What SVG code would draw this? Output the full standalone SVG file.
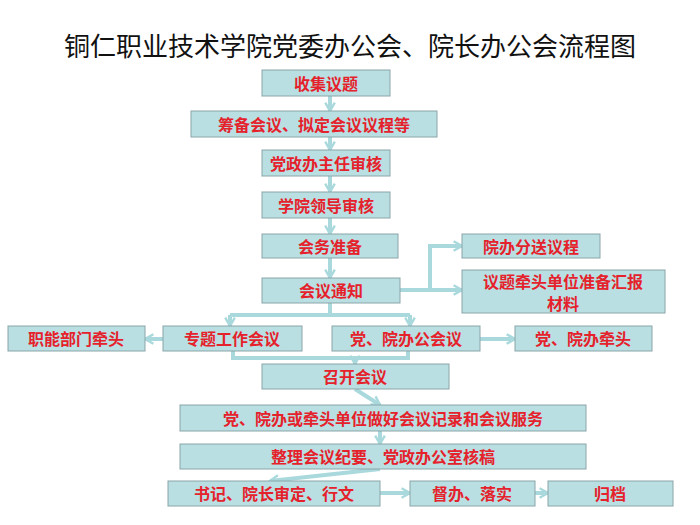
<svg xmlns="http://www.w3.org/2000/svg" width="700" height="525" viewBox="0 0 700 525">
<defs>
<marker id="ah" viewBox="0 0 10 10" refX="8" refY="5" markerWidth="3" markerHeight="3" orient="auto" markerUnits="strokeWidth"><path d="M1,1 L8,5 L1,9" fill="none" stroke="#a9d9dc" stroke-width="2"/></marker>
<style>
.b{fill:#b9dfe3;stroke:#8aa5a8;stroke-width:1}
.t{font-family:"Noto Sans CJK SC","Liberation Sans",sans-serif;font-size:16px;fill:#e5212b;text-anchor:middle;dominant-baseline:central;font-weight:bold}
.c{fill:none;stroke:#a9d9dc;stroke-width:4}
.a{marker-end:url(#ah)}
</style>
</defs>
<rect width="700" height="525" fill="#fff"/>
<text x="350" y="44" font-family="Noto Sans CJK SC,sans-serif" font-size="26" text-anchor="middle" dominant-baseline="central" fill="#111">铜仁职业技术学院党委办公会、院长办公会流程图</text>
<g id="connectors">
<path class="c a" d="M330,96 V111"/>
<path class="c a" d="M330,137 V150"/>
<path class="c a" d="M330,176 V192"/>
<path class="c a" d="M330,218 V234"/>
<path class="c a" d="M330,258 V278"/>
<path class="c a" d="M400,290 H430 V246 H462"/>
<path class="c a" d="M430,290 H462"/>
<path class="c" d="M330,303 V315 M230,315 H410"/>
<path class="c a" d="M230,315 V326"/>
<path class="c a" d="M410,315 V326"/>
<path class="c a" d="M163,339 H145"/>
<path class="c a" d="M480,339 H515"/>
<path class="c" d="M233,351 V358 H408 V351"/>
<path class="c a" d="M355,358 V364"/>
<path class="c a" d="M355,389 L380,405"/>
<path class="c a" d="M380,431 V444"/>
<path class="c a" d="M380,469 L270,481"/>
<path class="c a" d="M380,493 H410"/>
<path class="c a" d="M535,493 H548"/>
</g>
<g id="n1"><rect class="b" x="262" y="70" width="128" height="26"/><text class="t" x="326" y="83">收集议题</text></g>
<g id="n2"><rect class="b" x="191" y="111" width="246" height="26"/><text class="t" x="314" y="124">筹备会议、拟定会议议程等</text></g>
<g id="n3"><rect class="b" x="262" y="150" width="128" height="26"/><text class="t" x="326" y="163">党政办主任审核</text></g>
<g id="n4"><rect class="b" x="262" y="192" width="128" height="26"/><text class="t" x="326" y="205">学院领导审核</text></g>
<g id="n5"><rect class="b" x="262" y="234" width="136" height="24"/><text class="t" x="330" y="246">会务准备</text></g>
<g id="n6"><rect class="b" x="262" y="278" width="138" height="25"/><text class="t" x="331" y="290">会议通知</text></g>
<g id="n7"><rect class="b" x="462" y="234" width="138" height="24"/><text class="t" x="531" y="246">院办分送议程</text></g>
<g id="n8"><rect class="b" x="462" y="270" width="203" height="43"/><text class="t" x="563" y="281">议题牵头单位准备汇报</text><text class="t" x="563" y="303">材料</text></g>
<g id="n9"><rect class="b" x="8" y="326" width="137" height="25"/><text class="t" x="76" y="338">职能部门牵头</text></g>
<g id="n10"><rect class="b" x="163" y="326" width="139" height="25"/><text class="t" x="232" y="338">专题工作会议</text></g>
<g id="n11"><rect class="b" x="332" y="326" width="148" height="25"/><text class="t" x="406" y="338">党、院办公会议</text></g>
<g id="n12"><rect class="b" x="515" y="326" width="137" height="25"/><text class="t" x="583" y="338">党、院办牵头</text></g>
<g id="n13"><rect class="b" x="262" y="364" width="187" height="25"/><text class="t" x="355" y="376">召开会议</text></g>
<g id="n14"><rect class="b" x="180" y="405" width="406" height="26"/><text class="t" x="383" y="418">党、院办或牵头单位做好会议记录和会议服务</text></g>
<g id="n15"><rect class="b" x="180" y="444" width="406" height="25"/><text class="t" x="383" y="456">整理会议纪要、党政办公室核稿</text></g>
<g id="n16"><rect class="b" x="168" y="481" width="212" height="25"/><text class="t" x="274" y="493">书记、院长审定、行文</text></g>
<g id="n17"><rect class="b" x="410" y="481" width="125" height="25"/><text class="t" x="472" y="493">督办、落实</text></g>
<g id="n18"><rect class="b" x="548" y="481" width="125" height="25"/><text class="t" x="610" y="493">归档</text></g>
</svg>
